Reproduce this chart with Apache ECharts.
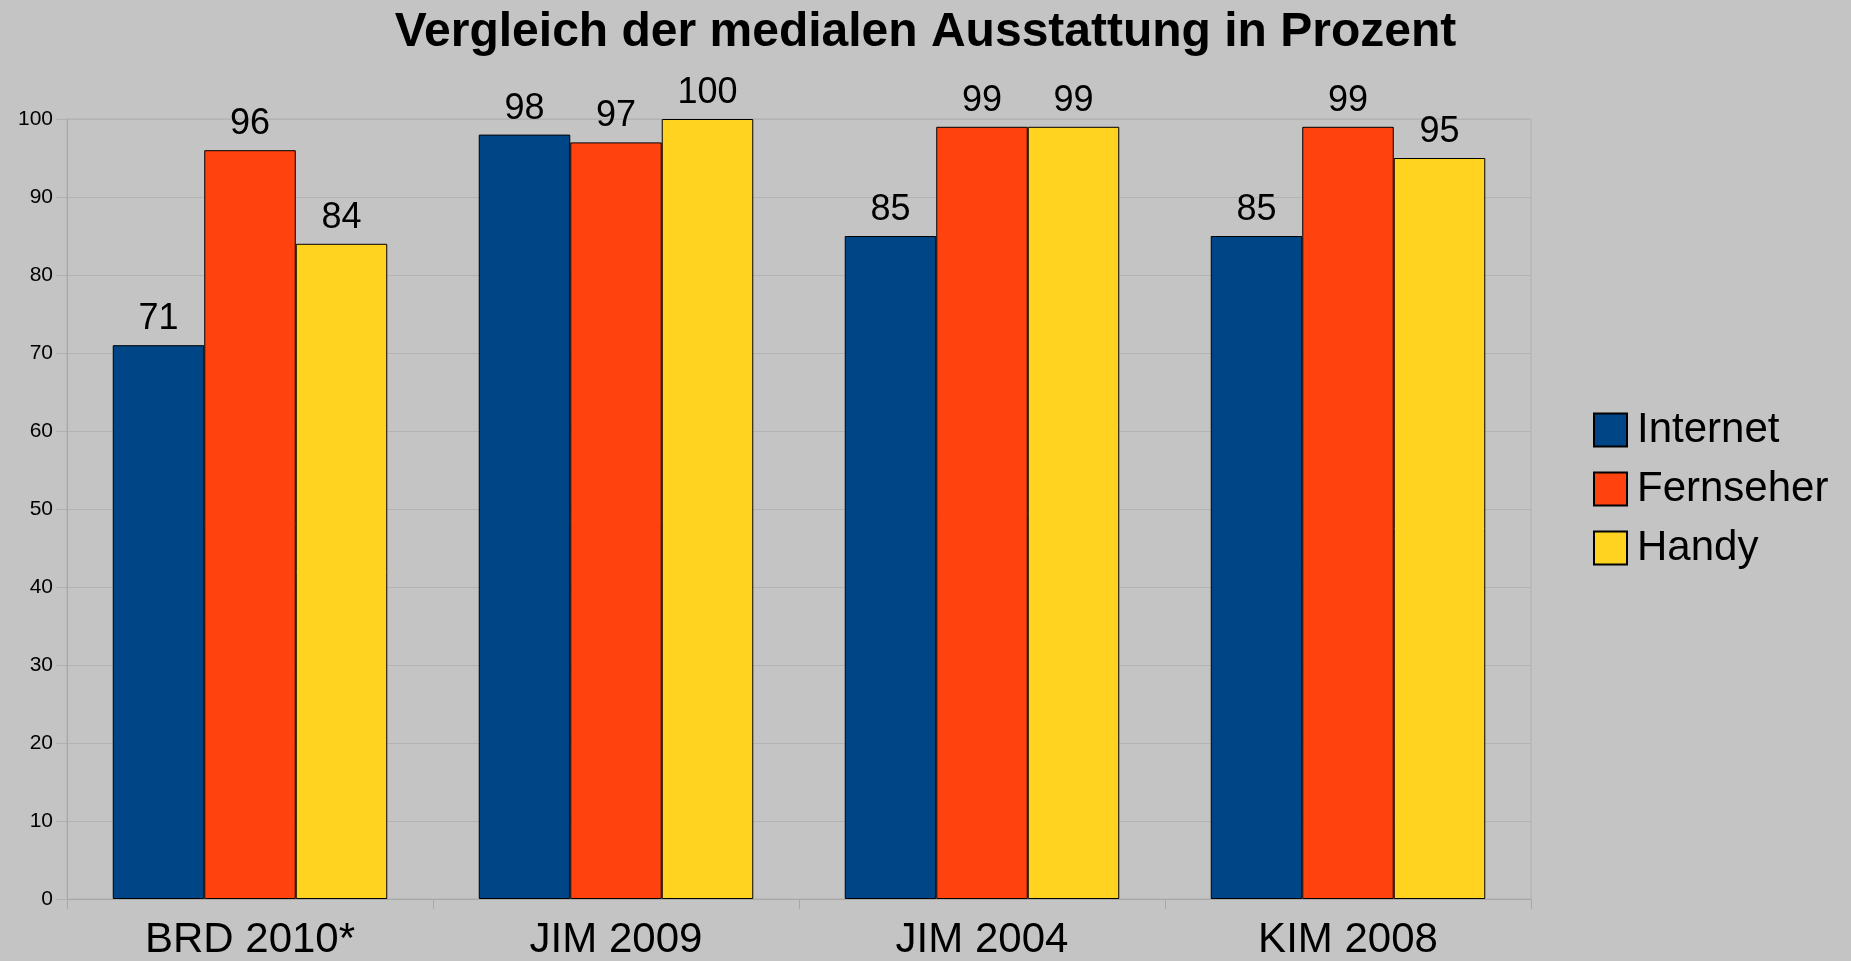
<!DOCTYPE html>
<html>
<head>
<meta charset="utf-8">
<script src="https://cdn.jsdelivr.net/npm/echarts@6/dist/echarts.min.js"></script>
<style>
  html, body { margin: 0; padding: 0; background: #c4c4c4; }
  #chart { width: 1851px; height: 961px; }
</style>
</head>
<body>
<div id="chart"></div>
<script>
// Daten
const categories = ['BRD 2010*', 'JIM 2009', 'JIM 2004', 'KIM 2008'];
const internet = [71, 98, 85, 85];
const fernseher = [96, 97, 99, 99];
const handy = [84, 100, 99, 95];
const yTicks = { min: 0, max: 100, interval: 10 };

const chart = echarts.init(document.getElementById('chart'));

// gemeinsame Einstellungen der Balken
function barSeries(name, data, color) {
  return {
    name: name,
    type: 'bar',
    data: data,
    barGap: '0%',
    barCategoryGap: '25%',
    itemStyle: { color: color, borderColor: '#000', borderWidth: 1 },
    label: {
      show: true,
      position: 'top',
      distance: 8,
      color: '#000',
      fontSize: 36,
      fontFamily: 'Liberation Sans, Arial, sans-serif'
    }
  };
}

chart.setOption({
  backgroundColor: '#c4c4c4',
  animation: false,
  title: {
    text: 'Vergleich der medialen Ausstattung in Prozent',
    left: 'center',
    top: 4,
    textStyle: {
      fontSize: 48,
      fontWeight: 'bold',
      color: '#000',
      fontFamily: 'Liberation Sans Narrow, Arial Narrow, Liberation Sans, sans-serif'
    }
  },
  legend: {
    orient: 'vertical',
    left: 1588,
    top: 404,
    icon: 'rect',
    itemWidth: 33,
    itemHeight: 33,
    itemGap: 17,
    textStyle: {
      fontSize: 42,
      lineHeight: 40,
      color: '#000',
      padding: [0, 0, 0, 5],
      fontFamily: 'Liberation Sans, Arial, sans-serif'
    }
  },
  grid: {
    left: 67,
    right: 320,
    top: 119,
    bottom: 62,
    show: true,
    borderColor: '#b0b0b0',
    borderWidth: 1
  },
  xAxis: {
    type: 'category',
    data: categories,
    axisLine: { show: true, lineStyle: { color: '#a8a8a8' } },
    axisTick: { show: true, length: 10, lineStyle: { color: '#a8a8a8' } },
    axisLabel: {
      margin: 20,
      fontSize: 42,
      color: '#000',
      fontFamily: 'Liberation Sans, Arial, sans-serif'
    }
  },
  yAxis: {
    type: 'value',
    min: yTicks.min,
    max: yTicks.max,
    interval: yTicks.interval,
    axisLine: { show: true, lineStyle: { color: '#a8a8a8' } },
    axisTick: { show: true, length: 11, lineStyle: { color: '#b0b0b0' } },
    splitLine: { show: true, lineStyle: { color: '#b4b4b4' } },
    axisLabel: {
      margin: 14,
      fontSize: 21,
      color: '#000',
      fontFamily: 'Liberation Sans, Arial, sans-serif'
    }
  },
  series: [
    barSeries('Internet', internet, '#004586'),
    barSeries('Fernseher', fernseher, '#ff420e'),
    barSeries('Handy', handy, '#ffd320')
  ]
});
</script>
</body>
</html>
